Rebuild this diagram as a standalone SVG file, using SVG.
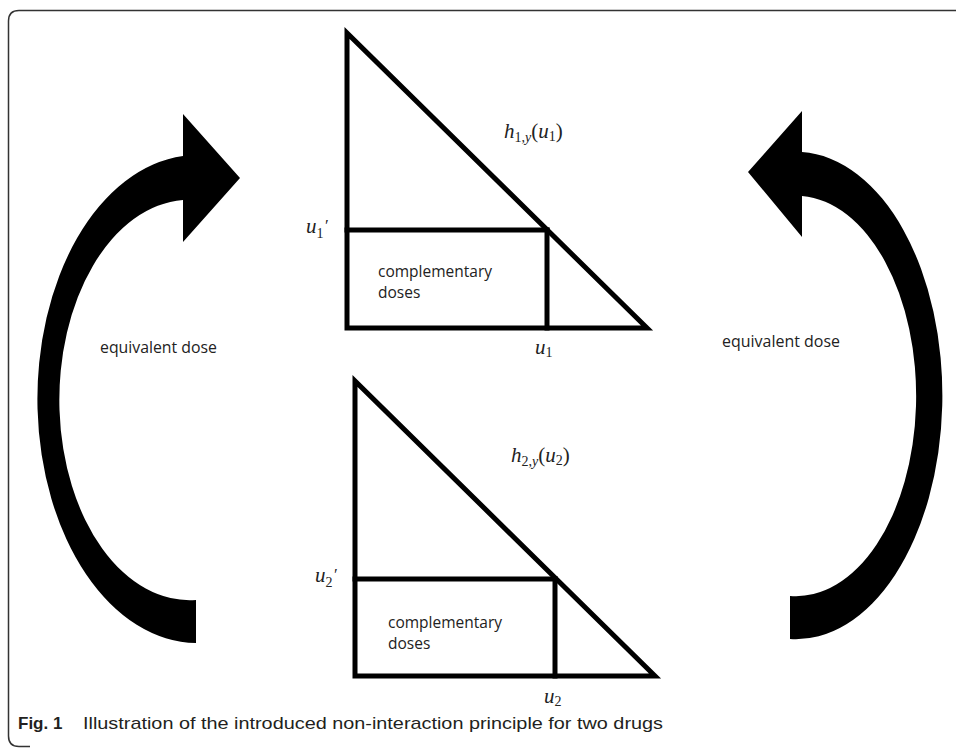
<svg xmlns="http://www.w3.org/2000/svg" width="956" height="749" viewBox="0 0 956 749">
<style>
.frame{fill:none;stroke:#333;stroke-width:1.5}
.tri{fill:none;stroke:#000;stroke-width:5;stroke-linejoin:miter;stroke-miterlimit:10}
.ln{stroke:#000;stroke-width:5;stroke-linecap:square}
.arrow{fill:#000;stroke:none}
.lbl{font-family:"Open Sans","Noto Sans",sans-serif;font-size:15.5px;fill:#222}
.m{font-family:"Liberation Serif","DejaVu Serif",serif;font-size:21px;font-style:italic;fill:#222}
.sub{font-size:14px;font-style:normal}
.subi{font-size:14px}
.up{font-style:normal}
.pr{font-family:"Liberation Serif","DejaVu Serif",serif;font-size:17px;font-style:normal;fill:#222}
.cap{font-family:"Liberation Sans","Open Sans",sans-serif;font-size:17px;fill:#231f20}
</style>
<rect width="956" height="749" fill="#fff"/>
<path class="frame" d="M 960 10.5 H 19 Q 8.5 10.5 8.5 21 V 736 Q 8.5 746.5 19 746.5 H 30"/>
<g id="connectors">
  <path id="arrow-left" class="arrow" d="M 240 178 L 183 114 L 183 156 A 160 244 0 0 0 196 643 L 196 600 A 130 200 0 0 1 183 200 L 183 242 Z"/>
  <path id="arrow-right" class="arrow" d="M 748 172 L 802 111 L 802 152 A 146 243 0 0 1 790 639 L 790 596 A 120 200 0 0 0 802 196 L 802 237 Z"/>
</g>
<g id="triangle-1">
  <polygon class="tri" points="347,33 347,328 647,328"/>
  <line class="ln" x1="347" y1="230" x2="547" y2="230"/>
  <line class="ln" x1="547" y1="230" x2="547" y2="328"/>
  <text class="lbl" x="378" y="277">complementary</text>
  <text class="lbl" x="378" y="298">doses</text>
  <text class="m" x="306" y="233">u<tspan class="sub" dy="5">1</tspan></text>
  <text class="pr" x="325" y="231">′</text>
  <text class="m" x="535" y="354">u<tspan class="sub" dy="3">1</tspan></text>
  <text class="m" x="504" y="138">h<tspan class="sub" dy="4">1,</tspan><tspan class="subi">y</tspan><tspan class="up" dy="-4">(</tspan>u<tspan class="sub" dy="3">1</tspan><tspan class="up" dy="-3">)</tspan></text>
</g>
<g id="triangle-2">
  <polygon class="tri" points="355,381 355,676 655,676"/>
  <line class="ln" x1="355" y1="579" x2="555" y2="579"/>
  <line class="ln" x1="555" y1="579" x2="555" y2="676"/>
  <text class="lbl" x="388" y="628">complementary</text>
  <text class="lbl" x="388" y="649">doses</text>
  <text class="m" x="315" y="582">u<tspan class="sub" dy="5">2</tspan></text>
  <text class="pr" x="334" y="580">′</text>
  <text class="m" x="544" y="703">u<tspan class="sub" dy="3">2</tspan></text>
  <text class="m" x="511" y="462">h<tspan class="sub" dy="4">2,</tspan><tspan class="subi">y</tspan><tspan class="up" dy="-4">(</tspan>u<tspan class="sub" dy="3">2</tspan><tspan class="up" dy="-3">)</tspan></text>
</g>
<g id="label-left">
  <text class="lbl" x="100" y="353" textLength="117" lengthAdjust="spacingAndGlyphs">equivalent dose</text>
</g>
<g id="label-right">
  <text class="lbl" x="722" y="347" textLength="118" lengthAdjust="spacingAndGlyphs">equivalent dose</text>
</g>
<g id="caption">
  <text class="cap" x="18" y="729"><tspan font-weight="bold">Fig. 1</tspan></text>
  <text class="cap" x="83" y="729" textLength="580" lengthAdjust="spacingAndGlyphs">Illustration of the introduced non-interaction principle for two drugs</text>
</g>
</svg>
